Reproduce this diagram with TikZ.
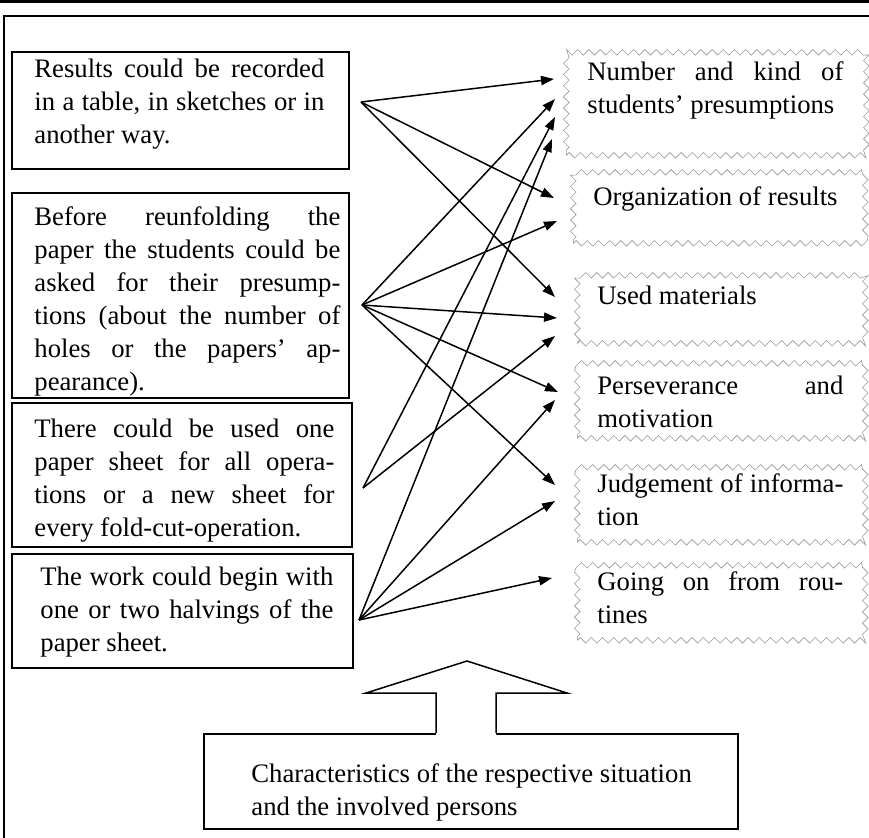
\documentclass[tikz,border=0pt]{standalone}
\usepackage{fontspec}
\setmainfont{Liberation Serif}
\usetikzlibrary{decorations.pathmorphing,arrows.meta}

\begin{document}
\begin{tikzpicture}[x=0.5pt,y=-0.5pt,
  frame/.style={line width=0.75pt},
  lbox/.style={draw, line width=0.75pt, rectangle, anchor=north west, inner sep=0pt},
  zbox/.style={draw=black!40, line width=0.3pt, decorate,
    decoration={zigzag, segment length=5.6pt, amplitude=1.4pt},
    rectangle, anchor=north west, inner sep=0pt},
  txt/.style={anchor=base west, inner sep=0pt, font=\fontsize{13.35}{16.5}\selectfont},
  link/.style={line width=0.75pt, -{Triangle[length=6.5pt,width=4.6pt]}},
]
\useasboundingbox (0,0) rectangle (869,837);

% page rule and outer frame
\draw[line width=1.5pt] (0,1.5) -- (869,1.5);
\draw[frame] (4,850) -- (4,16) -- (880,16);

% left column: situation boxes
\node[lbox, minimum width=168.5pt, minimum height=58.5pt] (b1) at (11,51) {};
\node[lbox, minimum width=168.5pt, minimum height=102.5pt] (b2) at (11,192) {};
\node[lbox, minimum width=170pt, minimum height=72pt] (b3) at (11,402) {};
\node[lbox, minimum width=170.5pt, minimum height=57pt] (b4) at (11,553) {};

\node[txt] (b1t) at (34,77) {\parbox[t]{145pt}{Results could be recorded\linebreak
  in a table, in sketches or in\linebreak another way.}};
\node[txt] (b2t) at (34,225) {\parbox[t]{153pt}{Before reunfolding the\linebreak
  paper the students could be\linebreak asked for their presump-\linebreak
  tions (about the number of\linebreak holes or the papers’ ap-\linebreak pearance).}};
\node[txt] (b3t) at (34,437) {\parbox[t]{150pt}{There could be used one\linebreak
  paper sheet for all opera-\linebreak tions or a new sheet for\linebreak
  every fold-cut-operation.}};
\node[txt] (b4t) at (40,585) {\parbox[t]{146.5pt}{The work could begin with\linebreak
  one or two halvings of the\linebreak paper sheet.}};

% right column: observed competences
\node[zbox, minimum width=150pt, minimum height=51.5pt] (r1) at (566,52) {};
\node[zbox, minimum width=146pt, minimum height=35.5pt] (r2) at (573,172) {};
\node[zbox, minimum width=144pt, minimum height=34pt] (r3) at (577,275) {};
\node[zbox, minimum width=144pt, minimum height=37.5pt] (r4) at (577,363) {};
\node[zbox, minimum width=144pt, minimum height=37.5pt] (r5) at (577,467) {};
\node[zbox, minimum width=144pt, minimum height=37.5pt] (r6) at (577,565) {};

\node[txt] (r1t) at (587,80) {\parbox[t]{128pt}{Number and kind of\linebreak students’ presumptions}};
\node[txt] (r2t) at (593,205) {Organization of results};
\node[txt] (r3t) at (597,304) {Used materials};
\node[txt] (r4t) at (597,394) {\parbox[t]{123pt}{Perseverance and\linebreak motivation}};
\node[txt] (r5t) at (597,492) {\parbox[t]{123pt}{Judgement of informa-\linebreak tion}};
\node[txt] (r6t) at (597,590) {\parbox[t]{123pt}{Going on from rou-\linebreak tines}};

% bottom box with the upward block arrow
\node[lbox, minimum width=267pt, minimum height=47.5pt] (bot) at (203,733) {};
\node[txt] (bott) at (251,782) {\parbox[t]{250pt}{Characteristics of the respective situation\\
  and the involved persons}};
\fill[white] (436,736) -- (436,693) -- (366,693) -- (467,661) -- (567,693)
  -- (496,693) -- (496,736) -- cycle;
\draw[frame, line join=miter] (436,733) -- (436,693) -- (366,693) -- (467,661)
  -- (567,693) -- (496,693) -- (496,733);

% arrow start points
\coordinate (s1) at (361,102);
\coordinate (s2) at (362,305);
\coordinate (s3) at (363,488);
\coordinate (s4) at (359,620);

% arrow end points in front of the right boxes
\coordinate (r1a) at (554,79);
\coordinate (r1b) at (555,99);
\coordinate (r1c) at (555,117);
\coordinate (r1d) at (552,139);
\coordinate (r2a) at (554,198);
\coordinate (r2b) at (557,221);
\coordinate (r3a) at (555,297);
\coordinate (r3b) at (557,318);
\coordinate (r3c) at (555,336);
\coordinate (r4a) at (558,392);
\coordinate (r4b) at (555,400);
\coordinate (r5a) at (555,485);
\coordinate (r5b) at (555,501);
\coordinate (r6a) at (552,578);

\draw[link] (s1) -- (r1a);
\draw[link] (s1) -- (r2a);
\draw[link] (s1) -- (r3a);
\draw[link] (s2) -- (r1b);
\draw[link] (s2) -- (r2b);
\draw[link] (s2) -- (r3b);
\draw[link] (s2) -- (r4a);
\draw[link] (s2) -- (r5a);
\draw[link] (s3) -- (r1c);
\draw[link] (s3) -- (r3c);
\draw[link] (s4) -- (r1d);
\draw[link] (s4) -- (r4b);
\draw[link] (s4) -- (r5b);
\draw[link] (s4) -- (r6a);
\end{tikzpicture}
\end{document}
